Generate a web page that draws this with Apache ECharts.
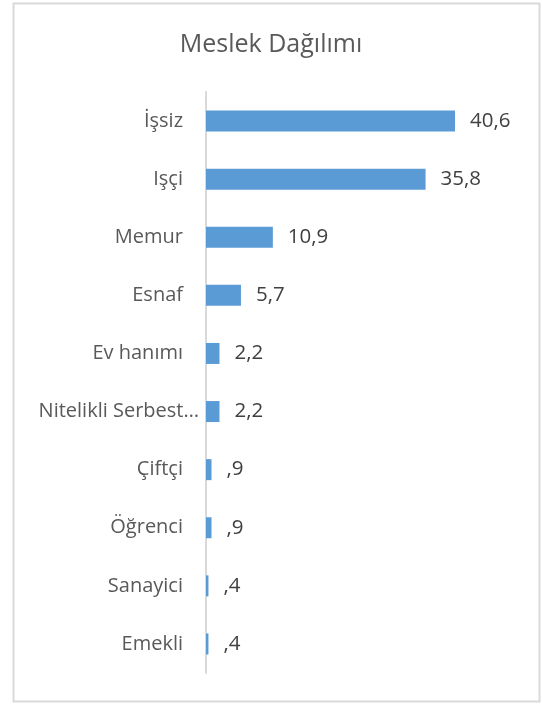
<!DOCTYPE html>
<html>
<head>
<meta charset="utf-8">
<script src="https://cdn.jsdelivr.net/npm/echarts@6/dist/echarts.min.js"></script>
<style>
  html, body { margin: 0; padding: 0; background: #fff; }
  #chart { width: 542px; height: 704px; }
</style>
</head>
<body>
<div id="chart"></div>
<script>
// meslek kategorileri ve yüzdeler
var categories = ['İşsiz', 'Işçi', 'Memur', 'Esnaf', 'Ev hanımı', 'Nitelikli Serbest Meslek', 'Çiftçi', 'Öğrenci', 'Sanayici', 'Emekli'];
var values = [40.6, 35.8, 10.9, 5.7, 2.2, 2.2, 0.9, 0.9, 0.4, 0.4];

var chart = echarts.init(document.getElementById('chart'));

// kısaltılan uzun etiket eksene daha yakın duruyor (excel gibi)
var yData = categories.map(function (c) {
  if (c.length > 15) {
    return { value: c, textStyle: { padding: [0, 0, 0, 0] } };
  }
  return c;
});

var option = {
  animation: false,
  title: {
    text: 'Meslek Dağılımı',
    left: 'center',
    top: 27,
    textStyle: {
      fontFamily: 'Open Sans',
      fontSize: 25,
      fontWeight: 'normal',
      color: '#595959'
    }
  },
  graphic: [{
    type: 'rect',
    shape: { x: 13.5, y: 3.5, width: 526, height: 698 },
    style: { fill: 'none', stroke: '#d9d9d9', lineWidth: 2 }
  }],
  grid: {
    left: 206,
    right: 60,
    top: 92,
    bottom: 31
  },
  xAxis: {
    type: 'value',
    min: 0,
    max: 45,
    show: false
  },
  yAxis: {
    type: 'category',
    inverse: true,
    data: yData,
    axisLine: {
      lineStyle: { color: '#d9d9d9', width: 2 }
    },
    axisTick: { show: false },
    axisLabel: {
      margin: 7,
      padding: [0, 16, 0, 0],
      fontFamily: 'Open Sans',
      fontSize: 20,
      color: '#595959',
      width: 170,
      overflow: 'truncate',
      ellipsis: '…'
    }
  },
  series: [{
    type: 'bar',
    data: values,
    barWidth: 21,
    itemStyle: { color: '#5B9BD5' },
    label: {
      show: true,
      position: 'right',
      distance: 15,
      fontFamily: 'Open Sans',
      fontSize: 20.5,
      color: '#404040',
      formatter: function (p) {
        return String(p.value).replace('.', ',').replace(/^0/, '');
      }
    }
  }]
};

chart.setOption(option);
</script>
</body>
</html>
